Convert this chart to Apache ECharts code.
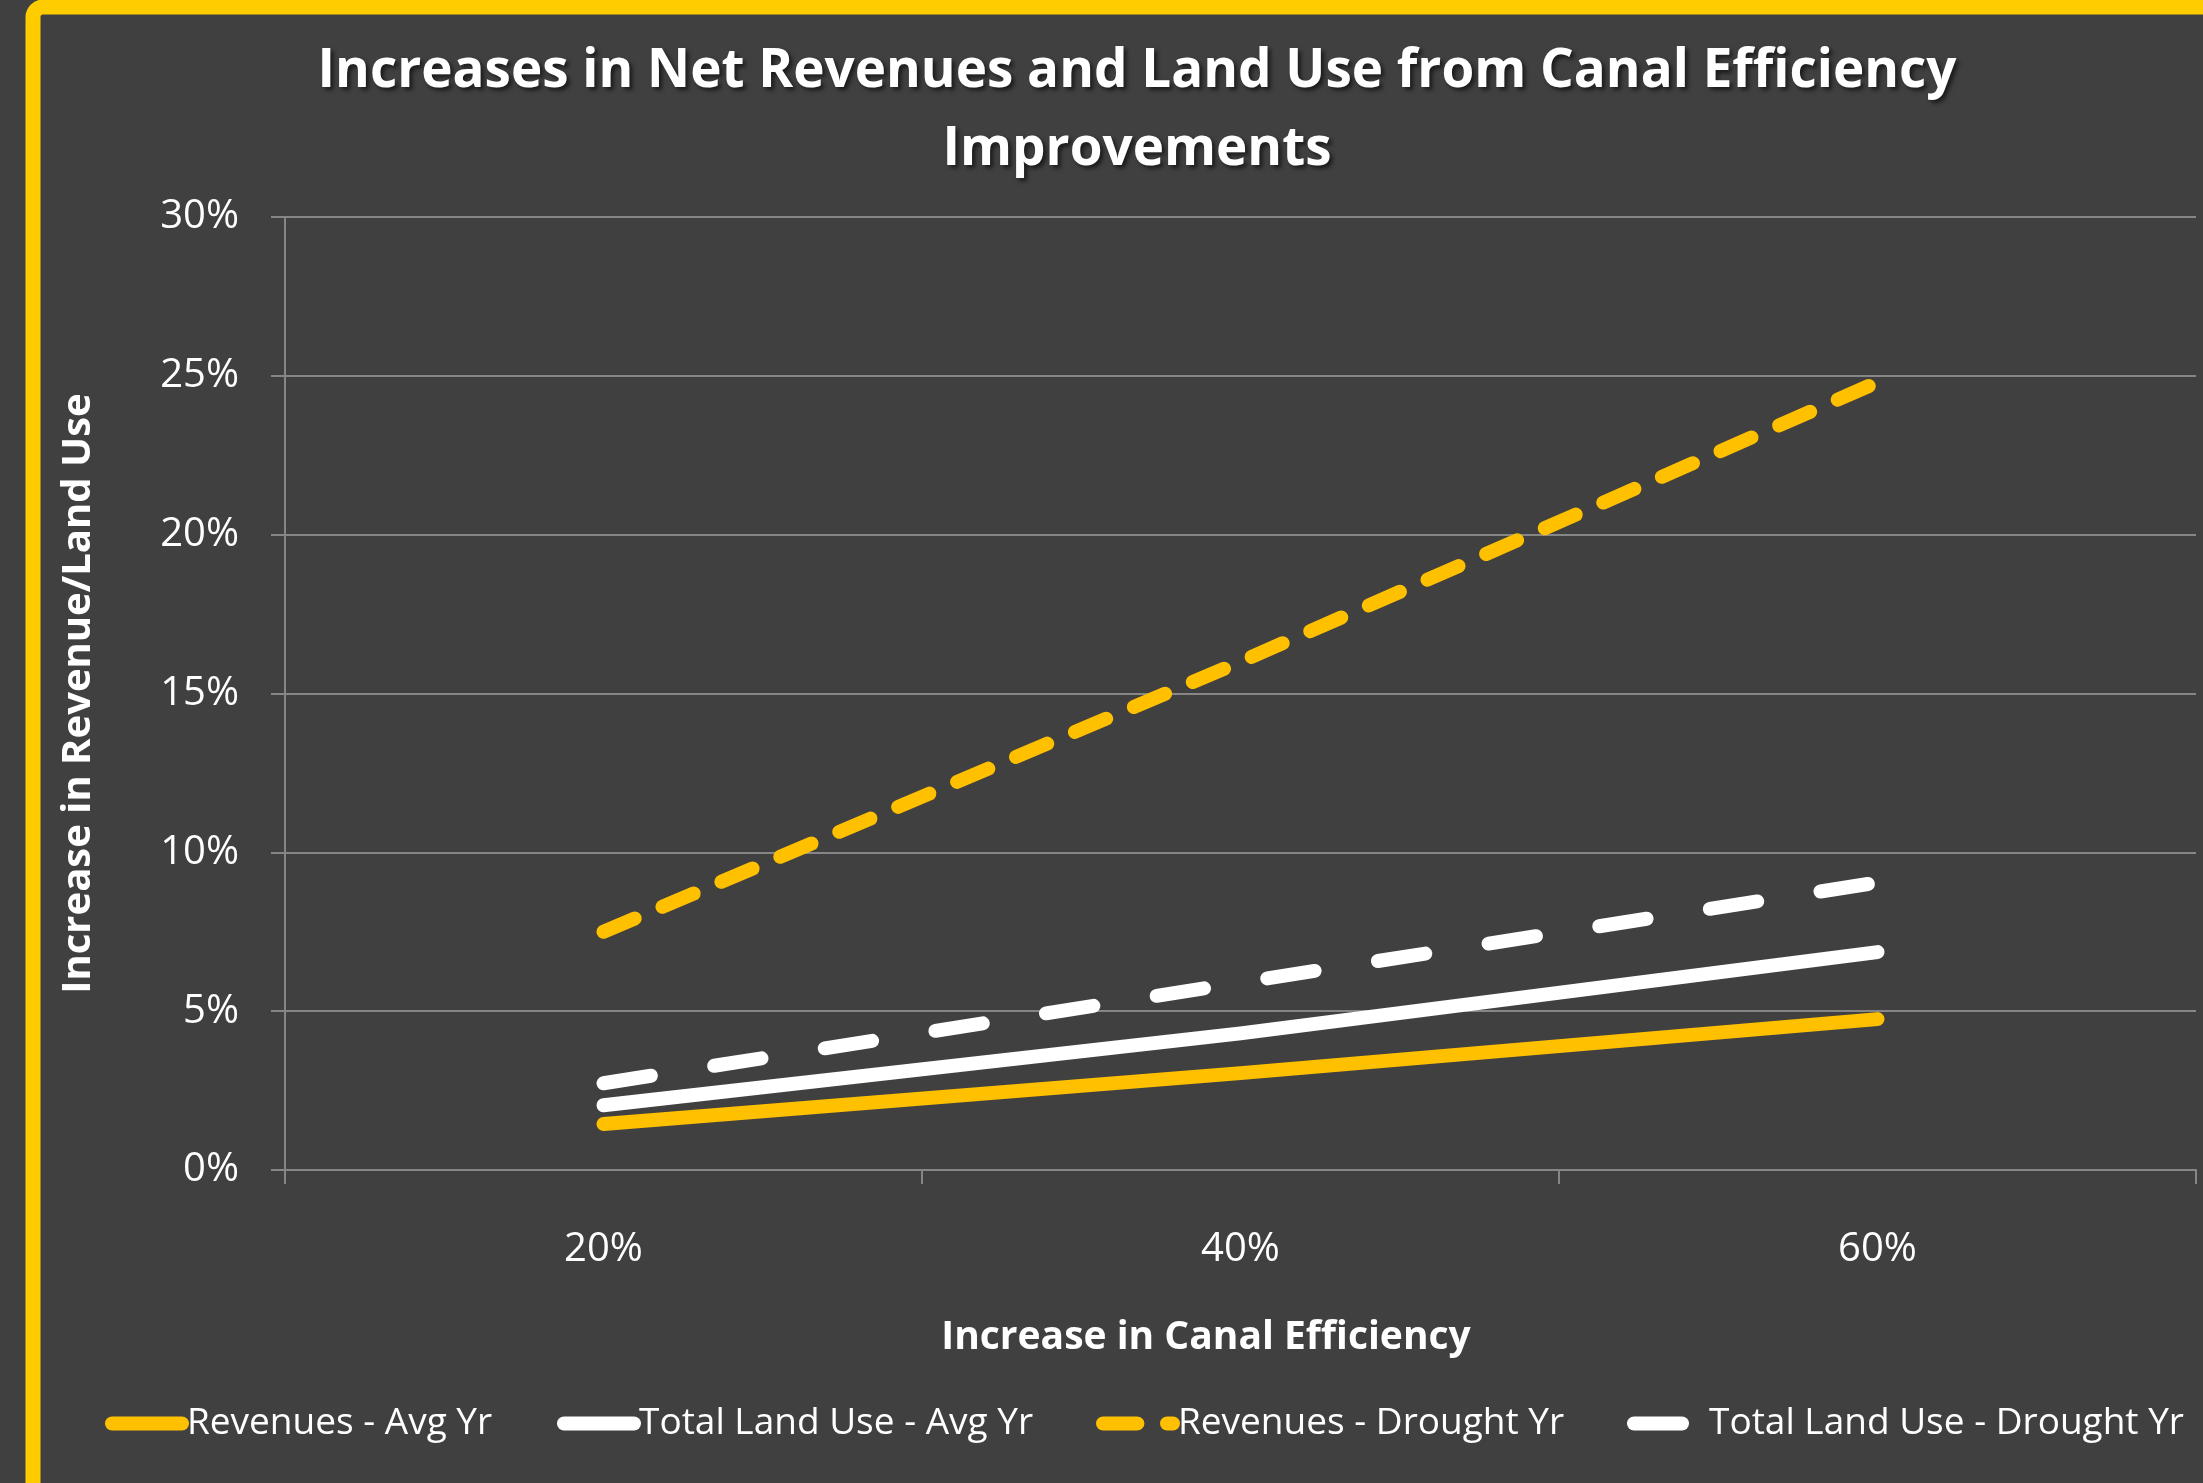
<!DOCTYPE html>
<html>
<head>
<meta charset="utf-8">
<script src="https://cdn.jsdelivr.net/npm/echarts@6/dist/echarts.min.js"></script>
<style>
html,body{margin:0;padding:0;background:#404040;}
#c{width:2203px;height:1483px;}
</style>
</head>
<body>
<div id="c"></div>
<script>
// ---- data ----
const titleLines = ['Increases in Net Revenues and Land Use from Canal Efficiency', 'Improvements'];
const xAxisName = 'Increase in Canal Efficiency';
const yAxisName = 'Increase in Revenue/Land Use';
const categories = ['20%', '40%', '60%'];
const seriesNames = ['Revenues - Avg Yr', 'Total Land Use - Avg Yr', 'Revenues - Drought Yr', 'Total Land Use - Drought Yr'];
const revenuesAvg = [1.45, 3.05, 4.75];
const landUseAvg = [2.04, 4.3, 6.86];
const revenuesDrought = [7.5, 16.0, 24.8];
const landUseDrought = [2.73, 5.9, 9.05];
const yMin = 0, yMax = 30, yStep = 5;

// ---- chart ----
const YELLOW = '#FFC000';
const WHITE = '#FFFFFF';
const GRID = '#868686';
const FONT = 'Open Sans';

const chart = echarts.init(document.getElementById('c'), null, {renderer: 'canvas'});

function lineSeries(name, data, color, dash, z) {
  return {
    name: name,
    type: 'line',
    data: data,
    symbol: 'none',
    smooth: false,
    z: z,
    lineStyle: {color: color, width: 14, type: dash || 'solid', cap: 'round', join: 'round'},
    itemStyle: {color: color}
  };
}

function legendAt(name, left) {
  return {
    data: [name],
    left: left,
    top: 1400,
    itemWidth: 70,
    itemHeight: 16,
    selectedMode: false,
    textStyle: {color: '#FFFFFF', fontSize: 37, fontFamily: FONT},
    lineStyle: {width: 14, cap: 'round'}
  };
}

const option = {
  backgroundColor: '#404040',
  animation: false,
  textStyle: {fontFamily: FONT},
  title: {
    text: titleLines.join('\n'),
    left: 1132,
    top: 28,
    textAlign: 'center',
    textStyle: {
      color: '#FFFFFF', fontSize: 53, fontWeight: 'bold', fontFamily: FONT, lineHeight: 78,
      textShadowColor: 'rgba(0,0,0,0.6)', textShadowBlur: 4, textShadowOffsetX: 3, textShadowOffsetY: 3
    }
  },
  graphic: [{
    type: 'rect',
    silent: true,
    z: 100,
    shape: {x: 33, y: 7, width: 2400, height: 1700, r: 10},
    style: {fill: 'none', stroke: '#FFCC00', lineWidth: 15}
  }],
  legend: [
    legendAt(seriesNames[0], 100),
    legendAt(seriesNames[1], 552),
    legendAt(seriesNames[2], 1091),
    legendAt(seriesNames[3], 1622)
  ],
  grid: {left: 285, right: 7, top: 217, bottom: 313, containLabel: false},
  xAxis: {
    type: 'category',
    data: categories,
    boundaryGap: true,
    name: xAxisName,
    nameLocation: 'middle',
    nameGap: 148,
    nameTextStyle: {color: '#FFFFFF', fontSize: 39, fontWeight: 'bold', fontFamily: FONT, padding: [0, 69, 0, 0]},
    axisLine: {show: true, lineStyle: {color: GRID, width: 2}},
    axisTick: {show: true, length: 14, lineStyle: {color: GRID, width: 2}},
    axisLabel: {color: '#FFFFFF', fontSize: 40, fontFamily: FONT, margin: 60}
  },
  yAxis: {
    type: 'value',
    min: yMin,
    max: yMax,
    interval: yStep,
    name: yAxisName,
    nameLocation: 'middle',
    nameGap: 186,
    nameRotate: 90,
    nameTextStyle: {color: '#FFFFFF', fontSize: 40, fontWeight: 'bold', fontFamily: FONT},
    axisLine: {show: true, lineStyle: {color: GRID, width: 2}},
    axisTick: {show: true, length: 14, lineStyle: {color: GRID, width: 2}},
    splitLine: {show: true, lineStyle: {color: GRID, width: 2}},
    axisLabel: {color: '#FFFFFF', fontSize: 40, fontFamily: FONT, margin: 46, formatter: '{value}%'}
  },
  series: [
    lineSeries(seriesNames[0], revenuesAvg, YELLOW, 'solid', 3),
    lineSeries(seriesNames[1], landUseAvg, WHITE, 'solid', 4),
    lineSeries(seriesNames[2], revenuesDrought, YELLOW, [34, 30], 2),
    lineSeries(seriesNames[3], landUseDrought, WHITE, [48, 64], 1)
  ]
};

chart.setOption(option);
</script>
</body>
</html>
